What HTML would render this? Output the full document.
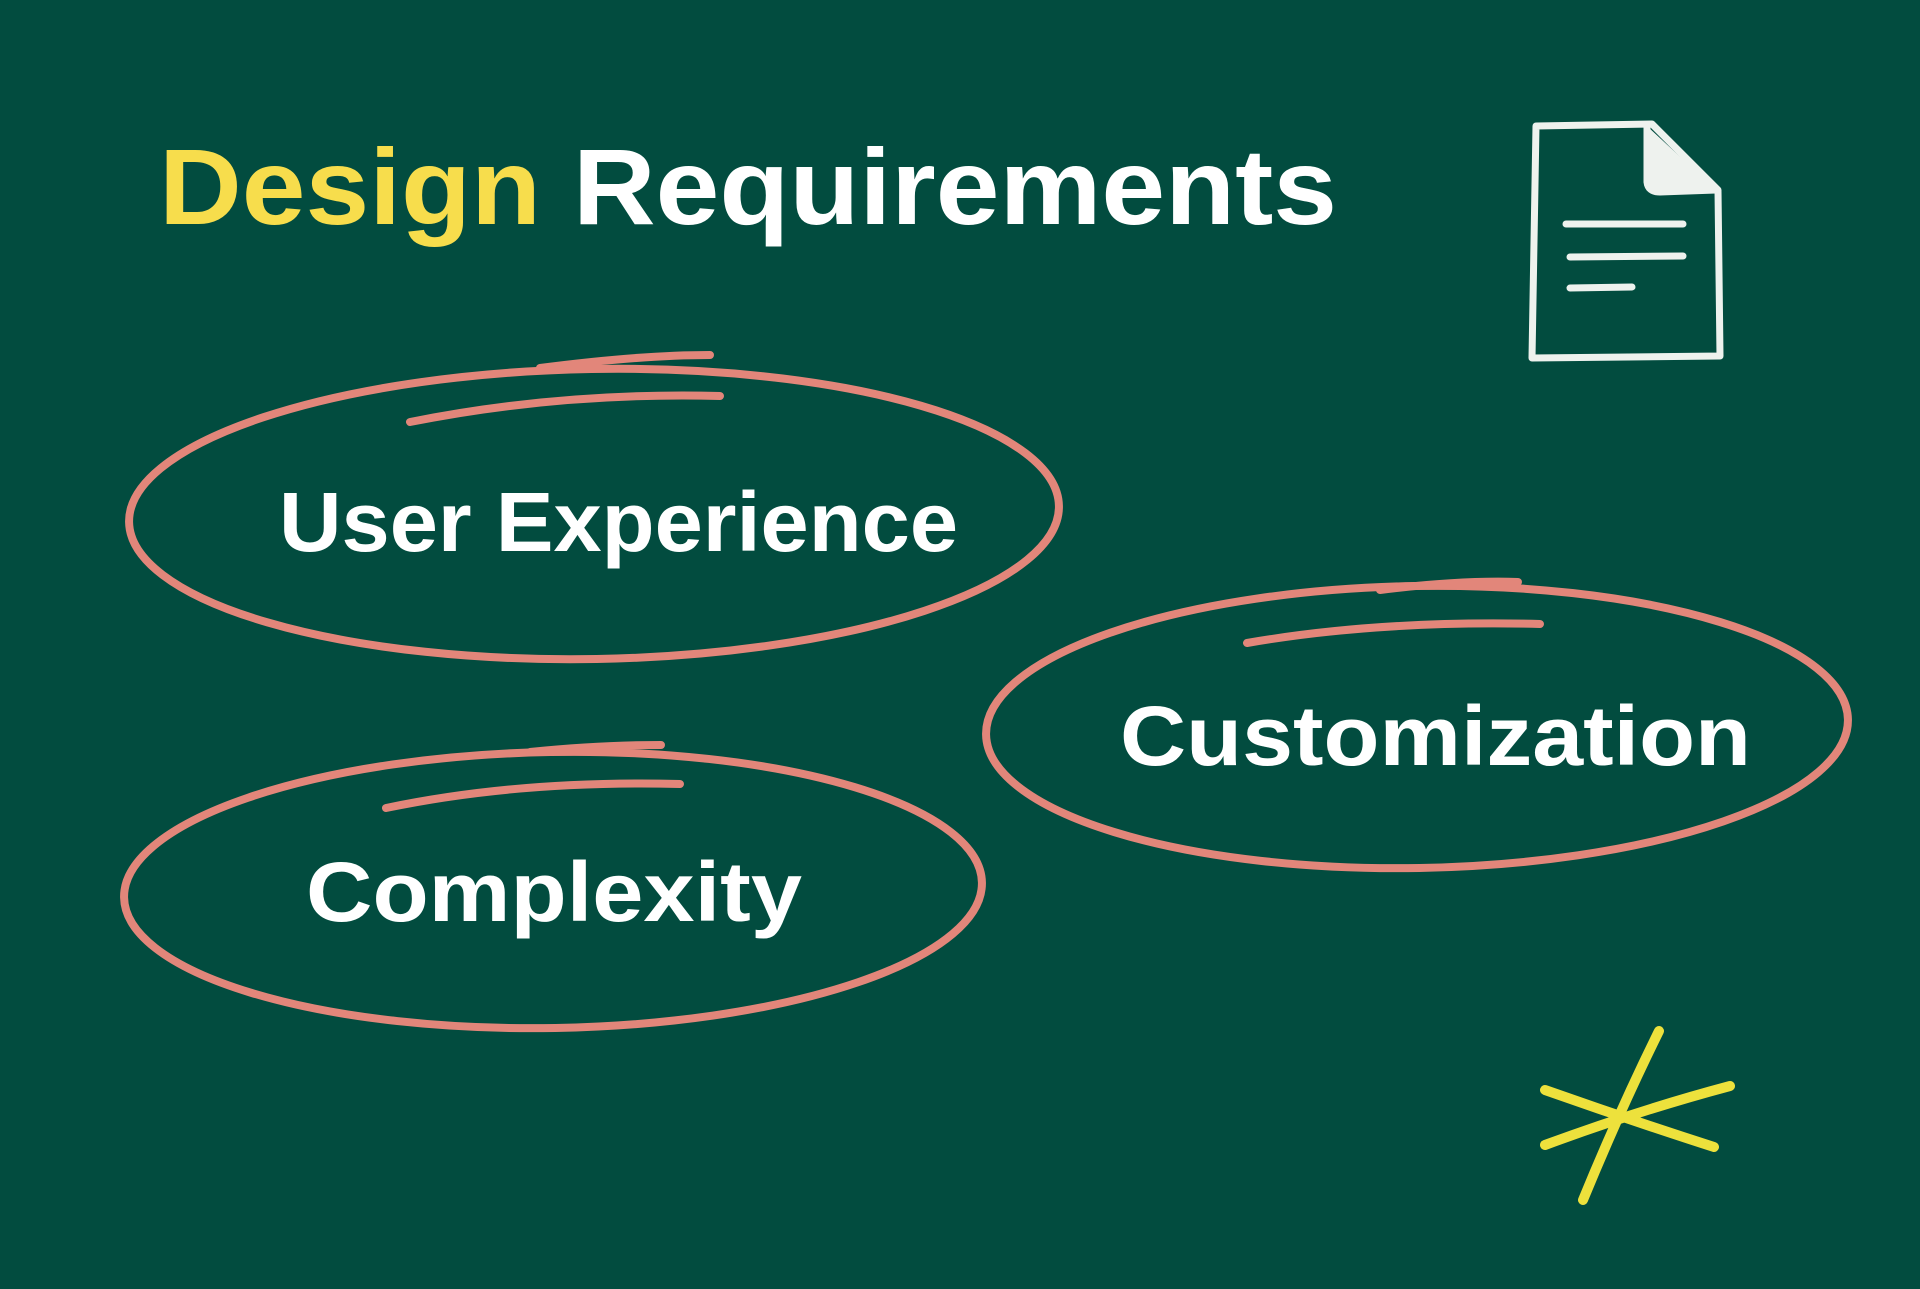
<!DOCTYPE html>
<html><head><meta charset="utf-8"><style>
html,body{margin:0;padding:0;background:#024c3f;}
svg{display:block}
text{font-family:"Liberation Sans",sans-serif;font-weight:bold;}
</style></head><body>
<svg width="1920" height="1289" viewBox="0 0 1920 1289" xmlns="http://www.w3.org/2000/svg">
<rect width="1920" height="1289" fill="#024c3f"/>
<text x="159" y="224" font-size="108" textLength="1178" lengthAdjust="spacingAndGlyphs"><tspan fill="#f7dd4c">Design</tspan><tspan fill="#ffffff"> Requirements</tspan></text>

<g fill="none" stroke="#eef2ee" stroke-width="7" stroke-linecap="round" stroke-linejoin="round">
<path d="M1536 126 L1652 124 L1718 190 L1720 356 L1532 358 Z"/>
<path d="M1647 126 L1647 182 Q1648 192 1660 192 L1716 190" fill="#eef2ee"/>
<path d="M1566 224 L1683 224"/>
<path d="M1570 257 L1683 256"/>
<path d="M1570 288 L1632 287"/>
</g>

<g fill="none" stroke="#e2867a" stroke-width="8" stroke-linecap="round">
<ellipse cx="594" cy="514" rx="465" ry="145" transform="rotate(-1 594 514)"/>
<path d="M410 422 Q560 392 720 396"/>
<path d="M540 368 Q640 355 710 355"/>
<ellipse cx="1417" cy="727" rx="431" ry="141" transform="rotate(-1 1417 727)"/>
<path d="M1247 643 Q1380 620 1540 624"/>
<path d="M1380 590 Q1460 580 1518 582"/>
<ellipse cx="553" cy="890" rx="429" ry="138" transform="rotate(-1 553 890)"/>
<path d="M386 808 Q520 780 680 784"/>
<path d="M530 752 Q600 745 661 745"/>
</g>

<text x="279" y="551" font-size="84" fill="#fff" textLength="679" lengthAdjust="spacingAndGlyphs">User Experience</text>
<text x="1120" y="765" font-size="84" fill="#fff" textLength="631" lengthAdjust="spacingAndGlyphs">Customization</text>
<text x="306" y="921" font-size="84" fill="#fff" textLength="496" lengthAdjust="spacingAndGlyphs">Complexity</text>

<g stroke="#ede13c" stroke-width="10" stroke-linecap="round" fill="none">
<path d="M1659 1031 Q1620 1110 1583 1200"/>
<path d="M1545 1090 Q1630 1120 1714 1147"/>
<path d="M1545 1145 Q1640 1110 1730 1086"/>
</g>
</svg>
</body></html>
